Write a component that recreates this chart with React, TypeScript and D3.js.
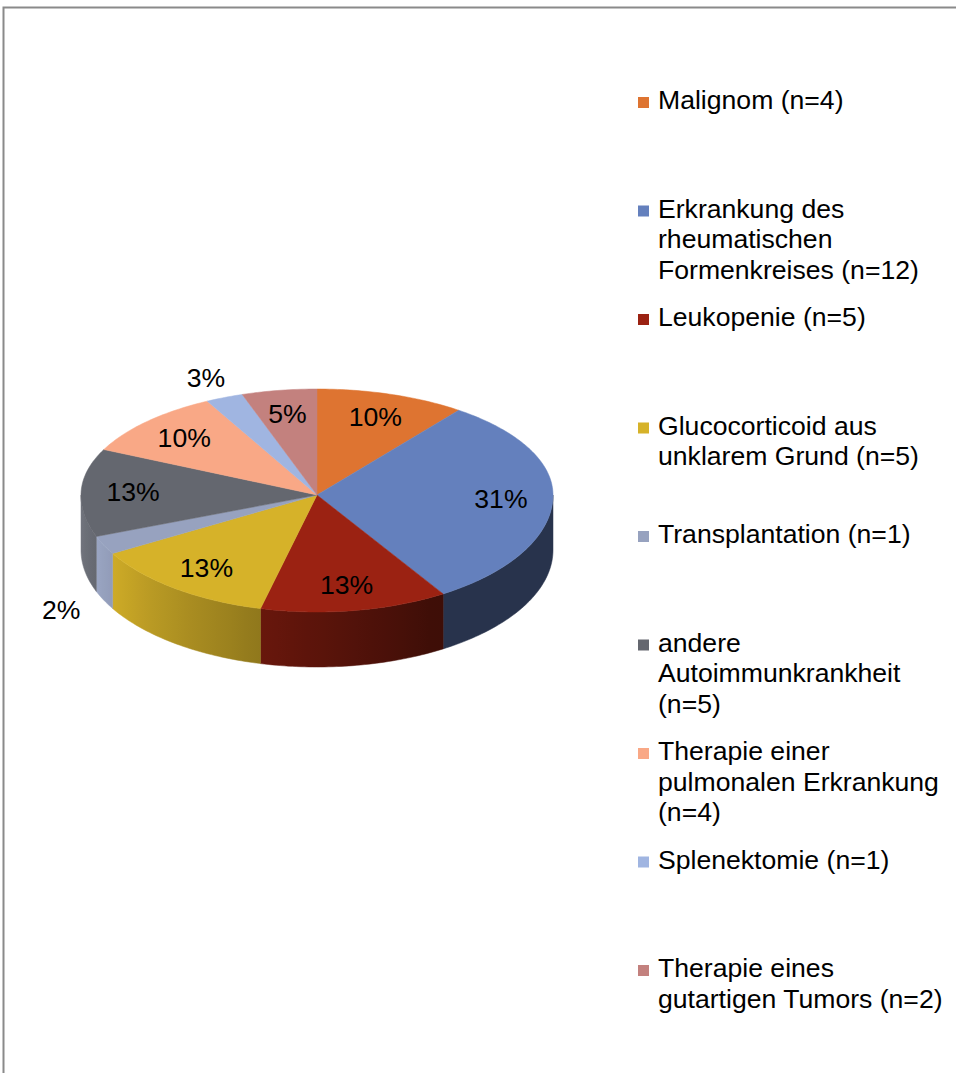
import React from "react";
import * as d3 from "d3";

const categories: string[][] = [
  ["Malignom (n=4)"],
  ["Erkrankung des", "rheumatischen", "Formenkreises (n=12)"],
  ["Leukopenie (n=5)"],
  ["Glucocorticoid aus", "unklarem Grund (n=5)"],
  ["Transplantation (n=1)"],
  ["andere", "Autoimmunkrankheit", "(n=5)"],
  ["Therapie einer", "pulmonalen Erkrankung", "(n=4)"],
  ["Splenektomie (n=1)"],
  ["Therapie eines", "gutartigen Tumors (n=2)"],
];
const counts: number[] = [4, 12, 5, 5, 1, 5, 4, 1, 2];
const percentLabels: string[] = ["10%", "31%", "13%", "13%", "2%", "13%", "10%", "3%", "5%"];
const colors: string[] = [
  "#DE7431",
  "#6480BD",
  "#9B2212",
  "#D6B229",
  "#97A2BF",
  "#64676F",
  "#F9A886",
  "#A0B5E1",
  "#C3817E",
];

const W = 956;
const H = 1073;
const cx = 317;
const cy = 495;
const rx = 236;
const ryBack = 106;
const ryFront = 117;
const depth = 55;
const FONT = "'Liberation Sans', Arial, sans-serif";
const FS = 26.6;

function edge(t: number): [number, number] {
  const c = Math.cos(t);
  const ry = c >= 0 ? ryBack : ryFront;
  return [cx + rx * Math.sin(t), cy - ry * c];
}

function arcPoints(a: number, b: number): [number, number][] {
  const n = Math.max(2, Math.ceil(((b - a) * 180) / Math.PI));
  const pts: [number, number][] = [];
  for (let i = 0; i <= n; i++) pts.push(edge(a + ((b - a) * i) / n));
  return pts;
}

function shade(t: number): number {
  const deg = (t * 180) / Math.PI;
  const f = 0.4 + ((deg - 150) / 120) * 0.75;
  return Math.max(0.4, Math.min(1.15, f));
}

function scaleColor(col: string, f: number): string {
  const c = d3.rgb(col);
  return d3.rgb(Math.min(255, c.r * f), Math.min(255, c.g * f), Math.min(255, c.b * f)).formatHex();
}

export default function App() {
  const pie = d3
    .pie<number>()
    .sort(null)
    .value((d) => d)
    .startAngle(0)
    .endAngle(2 * Math.PI);
  const arcs = pie(counts);
  const line = d3.line<[number, number]>();
  const total = d3.sum(counts);

  const sides: React.ReactNode[] = [];
  const defs: React.ReactNode[] = [];
  arcs.forEach((a, i) => {
    const s = Math.max(a.startAngle, Math.PI / 2);
    const e = Math.min(a.endAngle, (3 * Math.PI) / 2);
    if (s >= e) return;
    const top = arcPoints(s, e);
    const bottom = top.map(([x, y]) => [x, y + depth] as [number, number]).reverse();
    const d = line([...top, ...bottom]) + "Z";
    const x1 = edge(s)[0];
    const x2 = edge(e)[0];
    const stops: React.ReactNode[] = [];
    const n = 12;
    for (let k = 0; k <= n; k++) {
      const t = s + ((e - s) * k) / n;
      const x = edge(t)[0];
      const off = x2 === x1 ? 0 : (x - x1) / (x2 - x1);
      stops.push(
        <stop key={k} offset={Math.max(0, Math.min(1, off))} stopColor={scaleColor(colors[i], shade(t))} />
      );
    }
    const id = `side${i}`;
    defs.push(
      <linearGradient key={id} id={id} gradientUnits="userSpaceOnUse" x1={x1} y1={0} x2={x2} y2={0}>
        {stops}
      </linearGradient>
    );
    sides.push(<path key={id} d={d} fill={`url(#${id})`} stroke={`url(#${id})`} strokeWidth={0.5} />);
  });

  const tops = arcs.map((a, i) => {
    const pts = [[cx, cy] as [number, number], ...arcPoints(a.startAngle, a.endAngle)];
    return <path key={`top${i}`} d={line(pts) + "Z"} fill={colors[i]} stroke={colors[i]} strokeWidth={0.5} />;
  });

  const labels = arcs.map((a, i) => {
    const mid = (a.startAngle + a.endAngle) / 2;
    const frac = counts[i] / total;
    let x: number;
    let y: number;
    const p = edge(mid);
    if (frac < 0.04) {
      x = cx + (p[0] - cx) * 1.2;
      y = cy + (p[1] - cy) * 1.2 + (Math.cos(mid) < 0 ? depth : 0);
    } else {
      x = cx + (p[0] - cx) * 0.78;
      y = cy + (p[1] - cy) * 0.78;
    }
    return (
      <text key={`lab${i}`} x={x} y={y} dy="0.35em" textAnchor="middle" fontSize={FS} fontFamily={FONT} fill="#000">
        {percentLabels[i]}
      </text>
    );
  });

  const legendY0 = 109;
  const legendStep = 108.5;
  const lineH = 30.5;
  const legend = categories.map((lines, i) => {
    const by = legendY0 + i * legendStep;
    return (
      <g key={`leg${i}`}>
        <rect x={638} y={by - 12} width={11} height={11} fill={colors[i]} />
        <text x={658} y={by} fontSize={FS} fontFamily={FONT} fill="#000">
          {lines.map((l, j) => (
            <tspan key={j} x={658} y={by + j * lineH}>
              {l}
            </tspan>
          ))}
        </text>
      </g>
    );
  });

  return (
    <div style={{ position: "absolute", left: 0, top: 0, width: W, height: H, overflow: "hidden", background: "#fff" }}>
      <svg width={W} height={H} style={{ display: "block" }}>
        <defs>{defs}</defs>
        <rect x={0} y={0} width={W} height={H} fill="#fff" />
        <rect x={3.5} y={7.5} width={W + 20} height={H + 20} fill="none" stroke="#8a8a8a" strokeWidth={2} />
        {sides}
        {tops}
        {labels}
        {legend}
      </svg>
    </div>
  );
}
